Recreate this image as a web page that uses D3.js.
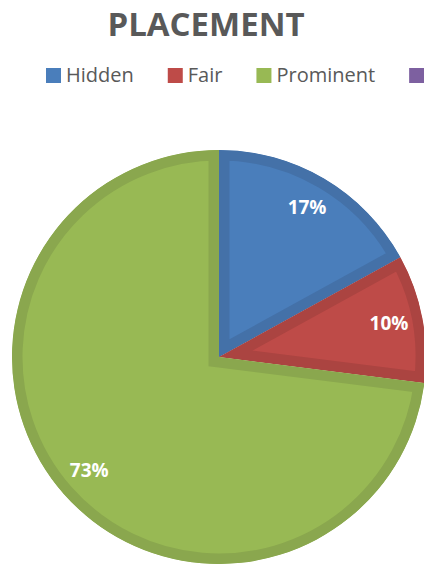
<!DOCTYPE html>
<html>
<head>
<meta charset="utf-8">
<script src="https://cdn.jsdelivr.net/npm/d3@7"></script>
<style>
  html, body { margin: 0; padding: 0; background: #fff; overflow: hidden; }
  svg { display: block; }
</style>
</head>
<body>
<svg id="chart" width="424" height="564"></svg>
<script>
const title = "PLACEMENT";
const categories = ["Hidden", "Fair", "Prominent", "Other"];
const values = [17, 10, 73, 0];
const fillColors = ["#4a7ebb", "#be4b48", "#98b954", "#7d60a0"];
const borderColors = ["#4471a8", "#ab4441", "#8aa74e", "#6f5590"];

const W = 424, H = 564;
const svg = d3.select("#chart");
const font = "'Open Sans', 'DejaVu Sans', sans-serif";

// Title
svg.append("text")
  .attr("x", 206).attr("y", 36)
  .attr("text-anchor", "middle")
  .attr("font-family", font)
  .attr("font-weight", "bold")
  .attr("font-size", 33)
  .attr("fill", "#595959")
  .text(title);

// Legend
const legend = svg.append("g");
let lx = 46;
categories.forEach((c, i) => {
  const g = legend.append("g").attr("transform", `translate(${lx},0)`);
  g.append("rect").attr("x", 0).attr("y", 68).attr("width", 15).attr("height", 15)
    .attr("fill", fillColors[i]);
  if (lx + 20 < W) {
    const t = g.append("text").attr("x", 20).attr("y", 82)
      .attr("font-family", font).attr("font-size", 20).attr("fill", "#595959")
      .text(c);
    lx += 20 + t.node().getComputedTextLength() + 34;
  }
});

// Pie
const cx = 219, cy = 357, R = 207;
const pie = d3.pie().sort(null).value(d => d.v);
const data = pie(categories.map((c, i) => ({ c, v: values[i], i })));
const arc = d3.arc().innerRadius(0).outerRadius(R);
const labelArc = d3.arc().innerRadius(173).outerRadius(173);

const defs = svg.append("defs");
const pg = svg.append("g").attr("transform", `translate(${cx},${cy})`);

data.filter(d => d.data.v > 0).forEach((d, k) => {
  const id = "clip" + k;
  defs.append("clipPath").attr("id", id)
    .append("path").attr("d", arc(d));
  pg.append("path")
    .attr("d", arc(d))
    .attr("fill", fillColors[d.data.i])
    .attr("stroke", borderColors[d.data.i])
    .attr("stroke-width", 21)
    .attr("stroke-linejoin", "miter")
    .attr("clip-path", `url(#${id})`);
});

const total = d3.sum(values);
pg.append("g")
  .selectAll("text")
  .data(data.filter(d => d.data.v > 0))
  .join("text")
  .attr("transform", d => `translate(${labelArc.centroid(d)})`)
  .attr("text-anchor", "middle")
  .attr("dy", "0.3em")
  .attr("font-family", font)
  .attr("font-weight", "bold")
  .attr("font-size", 19)
  .attr("fill", "#ffffff")
  .text(d => Math.round(d.data.v / total * 100) + "%");
</script>
</body>
</html>
